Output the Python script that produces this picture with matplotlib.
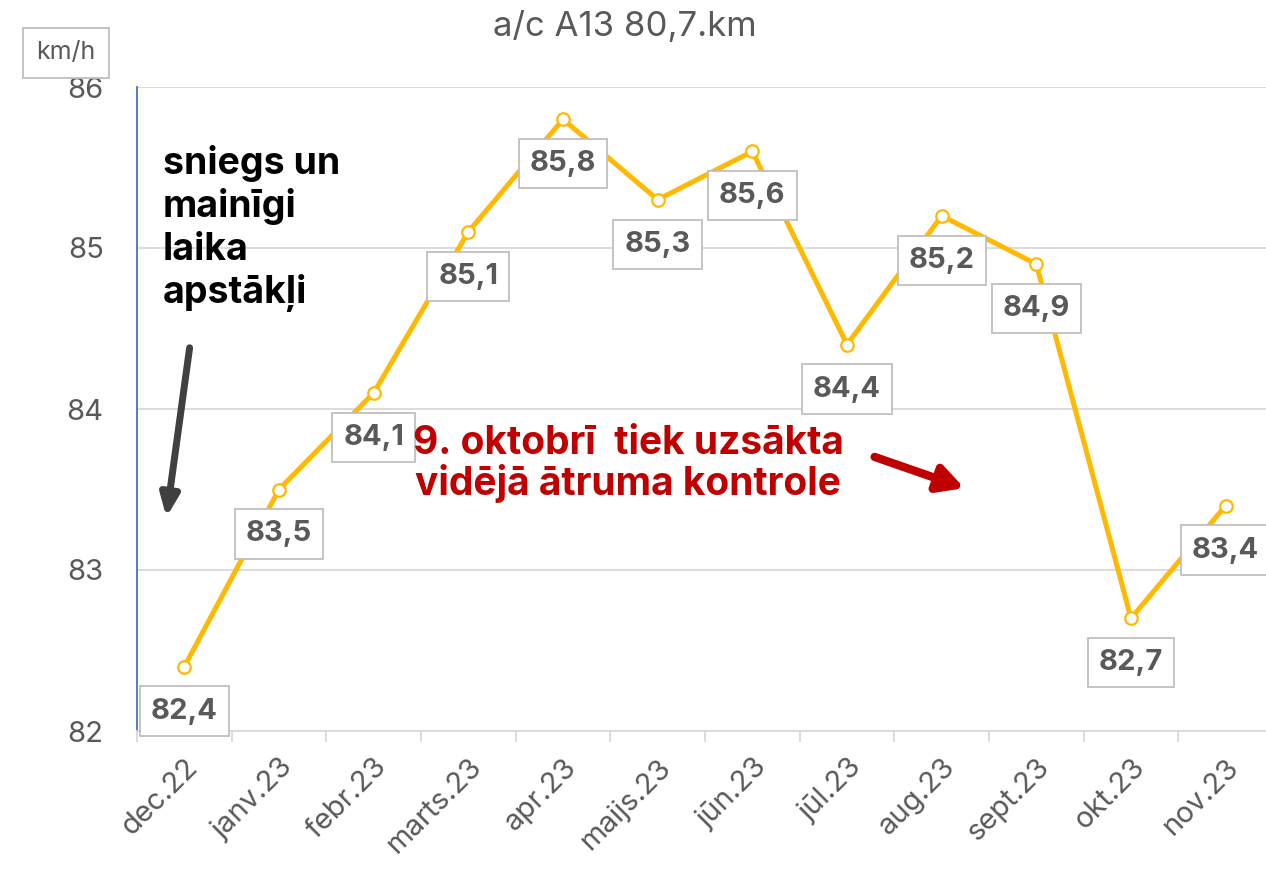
import matplotlib.pyplot as plt
import numpy as np

plt.rcParams["font.family"] = ["Inter", "DejaVu Sans"]

# chart data
months = ["dec.22", "janv.23", "febr.23", "marts.23", "apr.23", "maijs.23",
          "jūn.23", "jūl.23", "aug.23", "sept.23", "okt.23", "nov.23"]
speeds = [82.4, 83.5, 84.1, 85.1, 85.8, 85.3, 85.6, 84.4, 85.2, 84.9, 82.7, 83.4]
yticks = [82, 83, 84, 85, 86]

orange = "#FFB900"
grey_txt = "#595959"
red = "#C00000"

fig = plt.figure(figsize=(12.66, 8.75), dpi=100)
ax = fig.add_axes([137 / 1266, 1 - 731 / 875, (1273 - 137) / 1266, (731 - 87) / 875])

x = np.arange(len(months))
ax.plot(x, speeds, color=orange, lw=3.6, marker="o", ms=9, mfc="white",
        mec=orange, mew=1.6, zorder=3, clip_on=False)

# value labels in boxes below points
for xi, v in zip(x, speeds):
    ax.annotate(f"{v:.1f}".replace(".", ","), (xi, v), xytext=(0, -32),
                textcoords="offset points", ha="center", va="center",
                fontsize=21, fontweight="bold", color=grey_txt, zorder=4,
                bbox=dict(boxstyle="square,pad=0.38", fc="white", ec="#BFBFBF", lw=1.3))

ax.set_xlim(-0.5, len(months) - 0.5)
ax.set_ylim(82, 86)
ax.set_yticks(yticks)
ax.set_yticklabels([str(t) for t in yticks], fontsize=21, color=grey_txt)
ax.tick_params(axis="y", length=0, pad=24)
ax.yaxis.grid(True, color="#D9D9D9", lw=1.3)
ax.set_axisbelow(True)

ax.set_xticks(x)
ax.set_xticklabels(months, rotation=45, ha="right", va="top",
                   rotation_mode="anchor", fontsize=21, color=grey_txt)
ax.tick_params(axis="x", which="major", length=0, pad=16)
ax.set_xticks(np.arange(-0.5, len(months)), minor=True)
ax.tick_params(axis="x", which="minor", length=8, width=1.3, color="#D9D9D9")

for s in ["top", "right"]:
    ax.spines[s].set_visible(False)
ax.spines["left"].set_color("#4472C4")
ax.spines["left"].set_linewidth(1.3)
ax.spines["bottom"].set_color("#D9D9D9")
ax.spines["bottom"].set_linewidth(1.3)

fig.text(625 / 1266, 1 - 27 / 875, "a/c A13 80,7.km", ha="center", va="center",
         fontsize=25, color=grey_txt)
fig.text(66 / 1266, 1 - 53 / 875, "km/h", ha="center", va="center", fontsize=18,
         color=grey_txt, bbox=dict(boxstyle="square,pad=0.55", fc="white", ec="#BFBFBF", lw=1.3))

# notes
fig.text(163 / 1266, 1 - 145 / 875, "sniegs un\nmainīgi\nlaika\napstākļi",
         ha="left", va="top", fontsize=27, fontweight="bold", color="black",
         linespacing=1.22)
ax.annotate("", xy=(166 / 1266, 1 - 520 / 875), xytext=(190 / 1266, 1 - 345 / 875),
            xycoords="figure fraction", textcoords="figure fraction",
            arrowprops=dict(arrowstyle="-|>,head_length=1.3,head_width=0.55",
                            color="#404040", lw=5))

fig.text(628 / 1266, 1 - 464 / 875, "9. oktobrī  tiek uzsākta\nvidējā ātruma kontrole",
         ha="center", va="center", fontsize=28, fontweight="bold", color=red,
         linespacing=1.05, zorder=5)
ax.annotate("", xy=(967 / 1266, 1 - 489 / 875), xytext=(872 / 1266, 1 - 456 / 875),
            xycoords="figure fraction", textcoords="figure fraction",
            arrowprops=dict(arrowstyle="-|>,head_length=1.5,head_width=0.8",
                            color=red, lw=6))

fig.savefig("out.png", dpi=100)
